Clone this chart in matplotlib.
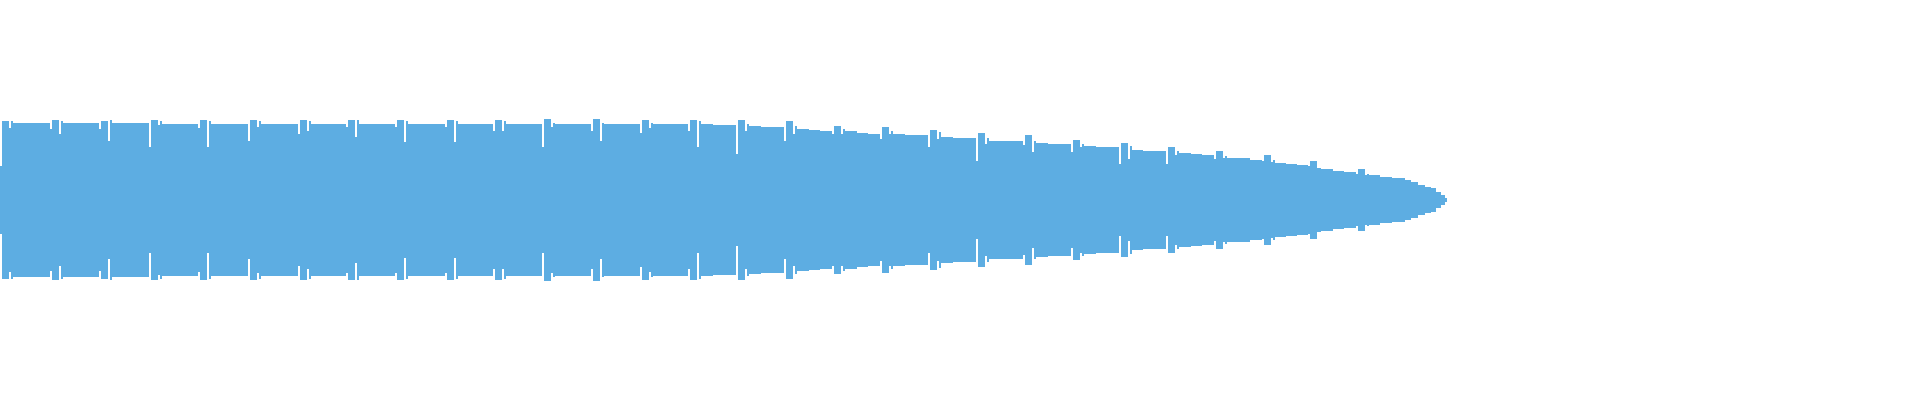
import matplotlib
matplotlib.use("Agg")
import matplotlib.pyplot as plt

# peak envelope of the clip (x = display column, y = normalised amplitude)
beat_start = [0, 50, 99, 149, 198, 248, 298, 346, 395, 445, 493, 542, 591, 640, 688,
              736, 784, 832, 880, 928, 976, 1023, 1071, 1119, 1166, 1214, 1262, 1308, 1356]
dip1 = [0.44, 0.92, 0.92, 0.69, 0.93, 0.77, 0.85, 0.95, 0.95, 0.95, 0.90, 0.68, 0.89, 0.87, 0.89,
        0.60, 0.77, 0.85, 0.79, 0.68, 0.51, 0.71, 0.62, 0.47, 0.47, 0.53, 0.50, 0.44, 0.34]
spike1 = [1.02, 1.03, 1.02, 1.04, 1.03, 1.04, 1.03, 1.03, 1.04, 1.04, 1.04, 1.05, 1.05, 1.04, 1.04,
          1.03, 1.02, 0.96, 0.94, 0.91, 0.87, 0.84, 0.78, 0.74, 0.69, 0.63, 0.58, 0.50, 0.40]
dip2 = [0.93, 0.85, 0.77, 0.97, 0.69, 0.95, 0.90, 0.81, 0.75, 0.75, 0.89, 0.95, 0.77, 0.93, 0.68,
        0.90, 0.85, 0.85, 0.85, 0.79, 0.73, 0.62, 0.68, 0.53, 0.58, 0.55, 0.49, 0.42, 0.33]
spike2 = [1.02, 1.02, 1.03, 1.02, 1.02, 1.02, 1.02, 1.03, 1.02, 1.02, 1.02, 1.00, 1.00, 1.00, 1.02,
          0.98, 0.96, 0.92, 0.90, 0.88, 0.80, 0.77, 0.72, 0.70, 0.63, 0.57, 0.52, 0.42, 0.34]
body_a = [1.00, 1.00, 1.00, 0.99, 0.99, 0.99, 0.99, 0.99, 0.99, 0.99, 0.98, 0.98, 0.98, 0.98, 0.98,
          0.96, 0.92, 0.89, 0.85, 0.81, 0.77, 0.74, 0.70, 0.65, 0.61, 0.55, 0.48, 0.40, 0.32]
body_b = [1.00, 1.00, 1.00, 0.99, 0.99, 0.99, 0.99, 0.99, 0.99, 0.99, 0.98, 0.98, 0.98, 0.98, 0.97,
          0.94, 0.91, 0.87, 0.84, 0.80, 0.76, 0.72, 0.68, 0.64, 0.59, 0.54, 0.46, 0.38, 0.30]
body_c = [1.00, 1.00, 1.00, 0.99, 0.99, 0.99, 0.99, 0.99, 0.99, 0.98, 0.98, 0.98, 0.98, 0.98, 0.97,
          0.94, 0.90, 0.86, 0.84, 0.80, 0.76, 0.72, 0.68, 0.63, 0.58, 0.52, 0.45, 0.36, 0.28]
# last beat fading out
tail_x = [1403, 1405, 1411, 1418, 1425, 1431, 1436, 1441, 1445, 1447]
tail_amp = [0.29, 0.26, 0.23, 0.20, 0.17, 0.15, 0.11, 0.07, 0.02]

xs = []
amps = []
for i, b in enumerate(beat_start):
    nxt = beat_start[i + 1] if i + 1 < len(beat_start) else tail_x[0]
    third = (nxt - (b + 13)) / 3
    xs += [b, b + 2, b + 9, b + 11, b + 13, b + 13 + third, b + 13 + 2 * third]
    amps += [dip1[i], spike1[i], dip2[i], spike2[i], body_a[i], body_b[i], body_c[i]]
xs += tail_x
amps += tail_amp + [0.0]

fig = plt.figure(figsize=(19.2, 4), dpi=100)
ax = fig.add_axes([0, 0, 1, 1])
ax.fill_between(xs, [-a for a in amps], amps, step='post', color='#5DADE2',
                linewidth=0, antialiased=False)
ax.set_xlim(0, 1920)
ax.set_ylim(-2.59, 2.59)
ax.axis('off')

fig.savefig('out.png', dpi=100, facecolor='white')
